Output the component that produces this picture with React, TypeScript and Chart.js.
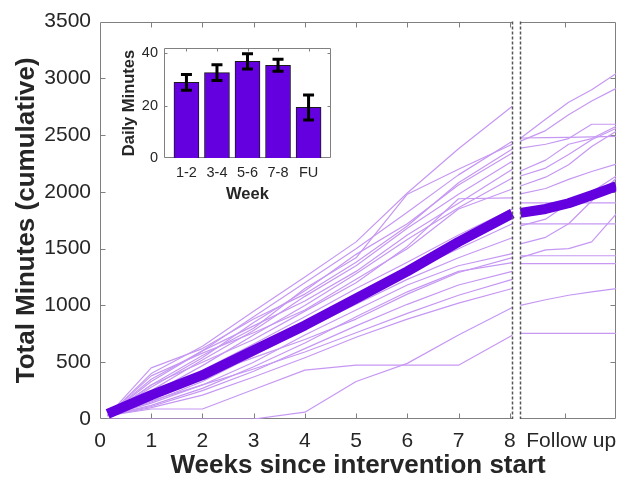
import React, { useEffect, useRef } from 'react';
import { Chart, registerables } from 'chart.js';

Chart.register(...registerables);

// ---------------- data ----------------
const WEEKS = [0.15, 1, 2, 3, 4, 5, 6, 7, 8.05];
const FU_WEEKS = [8.21, 8.7, 9.15, 9.6, 10.08];
const X_TICKS = [0, 1, 2, 3, 4, 5, 6, 7, 8];
const FU_TICK = 9.08;
const FU_LABEL_POS = 9.2;
const FU_LABEL = 'Follow up';
const DIVIDERS = [8.05, 8.21];
const X_MAX = 10.08;
const Y_MAX = 3500;
const Y_STEP = 500;

// individual participants, cumulative minutes at WEEKS
const P01 = [30, 400, 640, 950, 1250, 1560, 1990, 2380, 2754];
const P02 = [30, 330, 600, 900, 1200, 1500, 1820, 2150, 2447];
const P03 = [30, 300, 560, 800, 1150, 1420, 1980, 2200, 2420];
const P04 = [30, 450, 620, 880, 1100, 1380, 1700, 2080, 2377];
const P05 = [30, 280, 540, 850, 1130, 1450, 1720, 2060, 2342];
const P06 = [30, 250, 520, 780, 1080, 1350, 1680, 1980, 2271];
const P07 = [30, 350, 600, 820, 1040, 1300, 1620, 1900, 2200];
const P08 = [30, 220, 470, 740, 1000, 1280, 1580, 1860, 2123];
const P09 = [30, 380, 580, 760, 960, 1230, 1500, 1850, 2026];
const P10 = [30, 300, 500, 700, 950, 1200, 1520, 1940, 1947];
const P11 = [30, 200, 430, 660, 900, 1150, 1380, 1620, 1850];
const P12 = [30, 180, 400, 620, 840, 1060, 1290, 1500, 1719];
const P13 = [30, 150, 330, 560, 790, 1010, 1230, 1420, 1596];
const P14 = [30, 140, 300, 500, 740, 960, 1180, 1350, 1456];
const P15 = [30, 240, 380, 540, 700, 880, 1100, 1290, 1421];
const P16 = [30, 120, 270, 460, 670, 900, 1120, 1300, 1377];
const P17 = [30, 110, 250, 420, 620, 820, 1010, 1180, 1300];
const P18 = [30, 160, 300, 440, 590, 760, 930, 1090, 1230];
const P19 = [30, 100, 210, 370, 540, 720, 880, 1020, 1149];
const P20 = [0, 0, 0, 0, 60, 330, 490, 740, 982];
const P21 = [30, 88, 88, 260, 430, 474, 474, 474, 737];
const PARTICIPANTS = [P01, P02, P03, P04, P05, P06, P07, P08, P09, P10, P11, P12, P13, P14, P15, P16, P17, P18, P19, P20, P21];

// follow-up period, cumulative minutes at FU_WEEKS
const F01 = [2473, 2640, 2790, 2900, 3044];
const F02 = [2447, 2540, 2680, 2800, 2912];
const F03 = [2475, 2478, 2480, 2485, 2490];
const F04 = [2385, 2420, 2470, 2596, 2596];
const F05 = [2184, 2280, 2420, 2470, 2578];
const F06 = [2140, 2210, 2330, 2460, 2561];
const F07 = [2052, 2130, 2240, 2400, 2535];
const F08 = [1982, 2030, 2110, 2180, 2245];
const F09 = [1903, 1903, 1903, 1903, 1903];
const F10 = [1789, 1830, 1880, 1960, 2040];
const F11 = [1719, 1719, 1719, 1719, 1719];
const F12 = [1701, 1760, 1900, 2000, 2140];
const F13 = [1543, 1600, 1720, 1920, 2120];
const F14 = [1438, 1438, 1438, 1438, 1438];
const F15 = [1421, 1490, 1500, 1560, 1807];
const F16 = [1368, 1368, 1368, 1368, 1368];
const F17 = [1000, 1050, 1090, 1120, 1149];
const F18 = [754, 754, 754, 754, 754];
const FOLLOW = [F01, F02, F03, F04, F05, F06, F07, F08, F09, F10, F11, F12, F13, F14, F15, F16, F17, F18];

// group mean
const MEAN_INT = [45, 210, 386, 605, 824, 1061, 1300, 1560, 1810];
const MEAN_FU = [1815, 1850, 1900, 1970, 2050];

// inset bar chart
const INSET_LABELS = ['1-2', '3-4', '5-6', '7-8', 'FU'];
const INSET_MEANS = [28.9, 32.6, 36.9, 35.4, 19.3];
const INSET_ERR = [3.0, 3.0, 2.9, 2.3, 4.8];
const INSET_Y_TICKS = [0, 20, 40];
const INSET_Y_MAX = 42;

// ---------------- styles ----------------
const FONT = "'Liberation Sans', Arial, Helvetica, sans-serif";
const TEXT = '#262626';
const AXIS = '#808080';
const THIN = 'rgb(198,152,243)';
const PURPLE = '#6400e0';

const line = (xs: number[], ys: number[], color: string, width: number, order: number) => ({
  data: xs.map((x, i) => ({ x, y: ys[i] })),
  borderColor: color,
  borderWidth: width,
  pointRadius: 0,
  tension: 0,
  fill: false,
  order,
  borderCapStyle: 'butt',
  borderJoinStyle: 'round',
});

const mainFrame = {
  id: 'mainFrame',
  beforeDatasetsDraw(chart: any) {
    const { ctx, chartArea: a, scales } = chart;
    const x = scales.x, y = scales.y;
    const d0 = Math.round(x.getPixelForValue(DIVIDERS[0])) + 0.5;
    const d1 = Math.round(x.getPixelForValue(DIVIDERS[1])) + 0.5;
    const L = Math.round(a.left) + 0.5, R = Math.round(a.right) - 0.5;
    const T = Math.round(a.top) + 0.5, B = Math.round(a.bottom) - 0.5;
    ctx.save();
    ctx.strokeStyle = AXIS;
    ctx.lineWidth = 1;
    ctx.beginPath();
    ctx.moveTo(L, T); ctx.lineTo(L, B);
    ctx.moveTo(R, T); ctx.lineTo(R, B);
    ctx.moveTo(L, T); ctx.lineTo(d0, T);
    ctx.moveTo(d1, T); ctx.lineTo(R, T);
    ctx.moveTo(L, B); ctx.lineTo(d0, B);
    ctx.moveTo(d1, B); ctx.lineTo(R, B);
    for (let v = Y_STEP; v < Y_MAX; v += Y_STEP) {
      const py = Math.round(y.getPixelForValue(v)) + 0.5;
      ctx.moveTo(L, py); ctx.lineTo(L + 5, py);
      ctx.moveTo(R, py); ctx.lineTo(R - 5, py);
    }
    [...X_TICKS.slice(1), FU_TICK].forEach((v) => {
      const px = Math.round(x.getPixelForValue(v)) + 0.5;
      ctx.moveTo(px, B); ctx.lineTo(px, B - 5);
      ctx.moveTo(px, T); ctx.lineTo(px, T + 5);
    });
    ctx.stroke();
    ctx.restore();
  },
  afterDatasetsDraw(chart: any) {
    const { ctx, chartArea: a, scales } = chart;
    const x = scales.x;
    ctx.save();
    ctx.strokeStyle = '#555555';
    ctx.lineWidth = 1.5;
    ctx.setLineDash([3, 2]);
    ctx.beginPath();
    DIVIDERS.forEach((v) => {
      const px = Math.round(x.getPixelForValue(v)) + 0.5;
      ctx.moveTo(px, a.top);
      ctx.lineTo(px, a.bottom);
    });
    ctx.stroke();
    ctx.restore();
  },
};

const insetFrame = {
  id: 'insetFrame',
  beforeDatasetsDraw(chart: any) {
    const { ctx, chartArea: a, scales } = chart;
    const x = scales.x, y = scales.y;
    const L = Math.round(a.left) + 0.5, R = Math.round(a.right) - 0.5;
    const T = Math.round(a.top) + 0.5, B = Math.round(a.bottom) - 0.5;
    ctx.save();
    ctx.fillStyle = '#ffffff';
    ctx.fillRect(a.left, a.top, a.right - a.left, a.bottom - a.top);
    ctx.strokeStyle = AXIS;
    ctx.lineWidth = 1;
    ctx.beginPath();
    ctx.rect(L, T, R - L, B - T);
    INSET_Y_TICKS.slice(1).forEach((v) => {
      const py = Math.round(y.getPixelForValue(v)) + 0.5;
      ctx.moveTo(L, py); ctx.lineTo(L + 3, py);
      ctx.moveTo(R, py); ctx.lineTo(R - 3, py);
    });
    INSET_LABELS.forEach((_, i) => {
      const px = Math.round(x.getPixelForValue(i + 1)) + 0.5;
      ctx.moveTo(px, T); ctx.lineTo(px, T + 3);
    });
    ctx.stroke();
    ctx.restore();
  },
  afterDatasetsDraw(chart: any) {
    const { ctx, scales } = chart;
    const x = scales.x, y = scales.y;
    ctx.save();
    ctx.strokeStyle = '#000000';
    ctx.lineWidth = 3;
    ctx.beginPath();
    INSET_MEANS.forEach((m, i) => {
      const px = x.getPixelForValue(i + 1);
      const top = y.getPixelForValue(m + INSET_ERR[i]);
      const bot = y.getPixelForValue(m - INSET_ERR[i]);
      ctx.moveTo(px, top); ctx.lineTo(px, bot);
      ctx.moveTo(px - 5.5, top); ctx.lineTo(px + 5.5, top);
      ctx.moveTo(px - 5.5, bot); ctx.lineTo(px + 5.5, bot);
    });
    ctx.stroke();
    ctx.restore();
  },
};

export default function App() {
  const mainRef = useRef<HTMLCanvasElement>(null);
  const insetRef = useRef<HTMLCanvasElement>(null);

  useEffect(() => {
    const datasets: any[] = [
      line(WEEKS, MEAN_INT, PURPLE, 10, 0),
      line(FU_WEEKS, MEAN_FU, PURPLE, 10, 0),
      ...PARTICIPANTS.map((p) => line(WEEKS, p, THIN, 1.2, 1)),
      ...FOLLOW.map((f) => line(FU_WEEKS, f, THIN, 1.2, 1)),
    ];

    const main = new Chart(mainRef.current as HTMLCanvasElement, {
      type: 'line',
      data: { datasets },
      plugins: [mainFrame],
      options: {
        animation: false,
        responsive: false,
        devicePixelRatio: 1,
        events: [],
        layout: { padding: { left: 0, top: 20, right: 10, bottom: 0 } },
        plugins: { legend: { display: false }, tooltip: { enabled: false } },
        scales: {
          x: {
            type: 'linear',
            min: 0,
            max: X_MAX,
            grid: { display: false, drawTicks: false },
            border: { display: false },
            afterBuildTicks: (s: any) => {
              s.ticks = [...X_TICKS.map((v) => ({ value: v })), { value: FU_LABEL_POS }];
            },
            ticks: {
              autoSkip: false,
              maxRotation: 0,
              padding: 10,
              color: TEXT,
              font: { family: FONT, size: 21 },
              callback: (v: any) => (v === FU_LABEL_POS ? FU_LABEL : String(v)),
            },
            title: {
              display: true,
              text: 'Weeks since intervention start',
              color: TEXT,
              font: { family: FONT, size: 26, weight: 'bold' },
              padding: { top: 0, bottom: 2 },
            },
            afterFit: (s: any) => { s.height = 64; },
          },
          y: {
            min: 0,
            max: Y_MAX,
            grid: { display: false, drawTicks: false },
            border: { display: false },
            ticks: {
              stepSize: Y_STEP,
              padding: 9,
              color: TEXT,
              font: { family: FONT, size: 21 },
              callback: (v: any) => String(v),
            },
            title: {
              display: true,
              text: 'Total Minutes (cumulative)',
              color: TEXT,
              font: { family: FONT, size: 26, weight: 'bold' },
              padding: { top: 11, bottom: 0 },
            },
            afterFit: (s: any) => { s.width = 100; },
          },
        },
      } as any,
    });

    const inset = new Chart(insetRef.current as HTMLCanvasElement, {
      type: 'bar',
      data: {
        datasets: [
          {
            data: INSET_MEANS.map((m, i) => ({ x: i + 1, y: m })),
            backgroundColor: PURPLE,
            borderColor: '#1a1a1a',
            borderWidth: 1,
            barThickness: 25,
          },
        ],
      },
      plugins: [insetFrame],
      options: {
        animation: false,
        responsive: false,
        devicePixelRatio: 1,
        events: [],
        layout: { padding: { left: 0, top: 18, right: 9, bottom: 0 } },
        plugins: { legend: { display: false }, tooltip: { enabled: false } },
        scales: {
          x: {
            type: 'linear',
            min: 0.265,
            max: 5.735,
            offset: false,
            grid: { display: false, drawTicks: false },
            border: { display: false },
            afterBuildTicks: (s: any) => {
              s.ticks = INSET_LABELS.map((_, i) => ({ value: i + 1 }));
            },
            ticks: {
              autoSkip: false,
              maxRotation: 0,
              padding: 6,
              color: TEXT,
              font: { family: FONT, size: 14.5 },
              callback: (v: any) => INSET_LABELS[Math.round(v) - 1],
            },
            title: {
              display: true,
              text: 'Week',
              color: TEXT,
              font: { family: FONT, size: 16.5, weight: 'bold' },
              padding: { top: 0, bottom: 6 },
            },
            afterFit: (s: any) => { s.height = 52; },
          },
          y: {
            min: 0,
            max: INSET_Y_MAX,
            grid: { display: false, drawTicks: false },
            border: { display: false },
            afterBuildTicks: (s: any) => {
              s.ticks = INSET_Y_TICKS.map((v) => ({ value: v }));
            },
            ticks: {
              padding: 6,
              color: TEXT,
              font: { family: FONT, size: 14.5 },
            },
            title: {
              display: true,
              text: 'Daily Minutes',
              color: TEXT,
              font: { family: FONT, size: 16.5, weight: 'bold' },
              padding: { top: 20, bottom: 0 },
            },
            afterFit: (s: any) => { s.width = 64; },
          },
        },
      } as any,
    });

    return () => {
      main.destroy();
      inset.destroy();
    };
  }, []);

  return (
    <div style={{ position: 'absolute', left: 0, top: 0, width: 627, height: 483, background: '#ffffff' }}>
      <canvas ref={mainRef} width={627} height={483} style={{ position: 'absolute', left: 0, top: 0 }} />
      <canvas ref={insetRef} width={240} height={180} style={{ position: 'absolute', left: 100, top: 30 }} />
    </div>
  );
}
